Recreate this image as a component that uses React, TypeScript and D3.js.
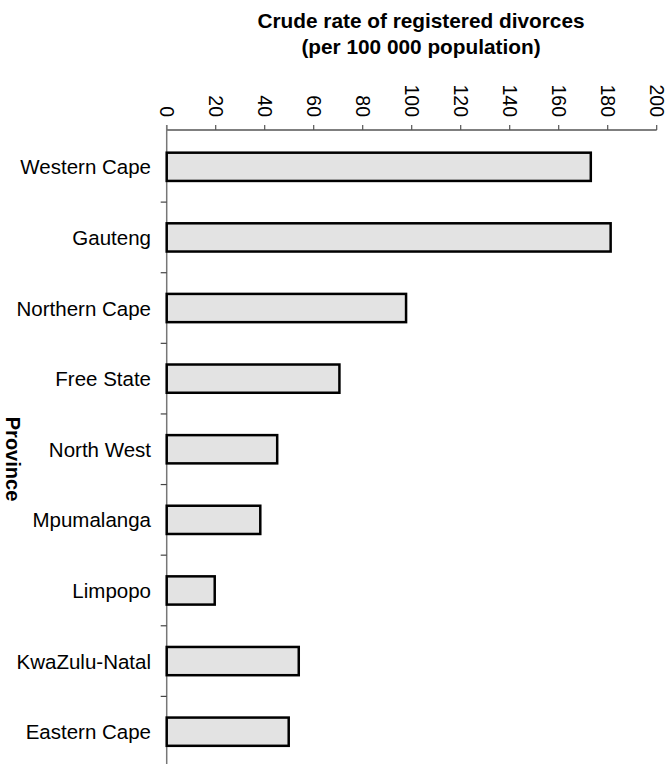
import React from "react";
import * as d3 from "d3";

const provinces = [
  "Western Cape",
  "Gauteng",
  "Northern Cape",
  "Free State",
  "North West",
  "Mpumalanga",
  "Limpopo",
  "KwaZulu-Natal",
  "Eastern Cape",
];
const rates = [173.1, 181.2, 97.7, 70.5, 45.1, 38.2, 19.6, 53.9, 49.8];
const xTicks = [0, 20, 40, 60, 80, 100, 120, 140, 160, 180, 200];
const titleLines = ["Crude rate of registered divorces", "(per 100 000 population)"];
const yTitle = "Province";

const W = 672;
const H = 764;
const FONT = "'Liberation Sans', Arial, sans-serif";

export default function App() {
  const x = d3.scaleLinear().domain([0, 200]).range([166.7, 656.7]);
  const y = d3.scaleBand<string>().domain(provinces).range([131.5, 767]).paddingInner(0.6).paddingOuter(0.3);
  const yb = d3.scaleBand<string>().domain(provinces).range([131.5, 767]);
  const axisY = 130;
  return (
    <svg width={W} height={H} style={{ position: "absolute", left: 0, top: 0 }} fontFamily={FONT}>
      <rect width={W} height={H} fill="#fff" />
      {titleLines.map((t, i) => (
        <text key={i} x={421} y={27.5 + i * 26.5} textAnchor="middle" fontSize={20.8} fontWeight="bold" fill="#000">
          {t}
        </text>
      ))}
      {/* top axis */}
      <line x1={x(0)} x2={x(200)} y1={axisY} y2={axisY} stroke="#000" strokeWidth={1.2} />
      {xTicks.map((v) => (
        <g key={v}>
          <line x1={x(v)} x2={x(v)} y1={axisY - 5} y2={axisY} stroke="#555" strokeWidth={1.2} />
          <text
            transform={`translate(${x(v)},117) rotate(90)`}
            textAnchor="end"
            dominantBaseline="central"
            fontSize={19.5}
            fill="#000"
          >
            {v}
          </text>
        </g>
      ))}
      {/* left axis */}
      <line x1={x(0)} x2={x(0)} y1={axisY - 5} y2={H} stroke="#777" strokeWidth={1.5} />
      {provinces.slice(1).map((p) => (
        <line key={p} x1={x(0) - 6} x2={x(0)} y1={yb(p)!} y2={yb(p)!} stroke="#444" strokeWidth={1.2} />
      ))}
      {provinces.map((p, i) => (
        <g key={p}>
          <rect
            x={x(0)}
            y={y(p)!}
            width={x(rates[i]) - x(0)}
            height={y.bandwidth()}
            fill="#e3e3e3"
            stroke="#000"
            strokeWidth={2.5}
          />
          <text
            x={151}
            y={y(p)! + y.bandwidth() / 2}
            textAnchor="end"
            dominantBaseline="central"
            fontSize={20.5}
            fill="#000"
          >
            {p}
          </text>
        </g>
      ))}
      <text
        transform={`translate(13,459) rotate(90)`}
        textAnchor="middle"
        dominantBaseline="central"
        fontSize={20}
        fontWeight="bold"
        fill="#000"
      >
        {yTitle}
      </text>
    </svg>
  );
}
